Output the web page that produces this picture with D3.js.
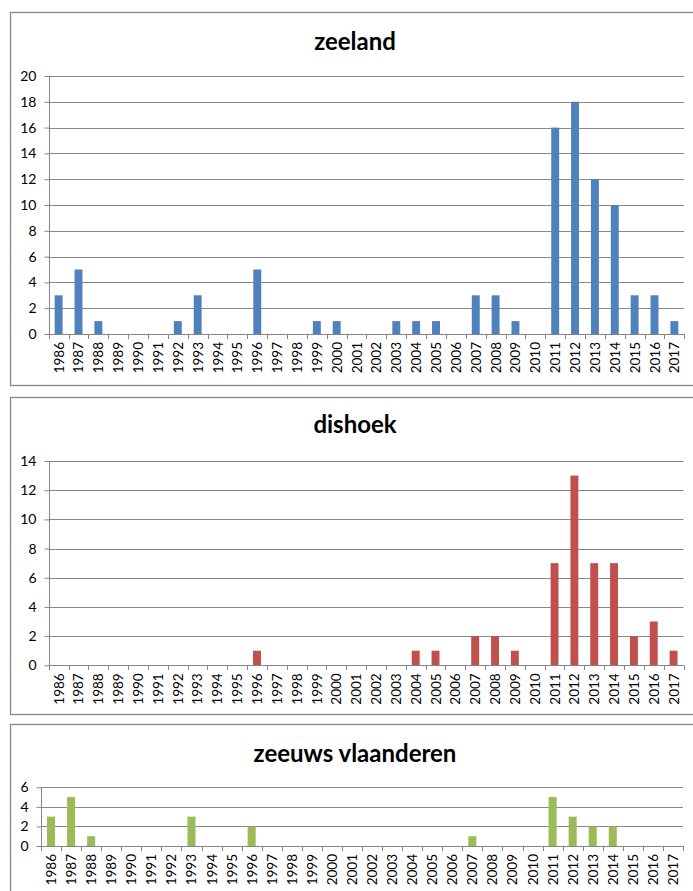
<!DOCTYPE html>
<html>
  <head>
    <script type="text/javascript" src="https://cdn.jsdelivr.net/npm/d3@7"></script>
    <style>
      body { margin: 0; background: #fff; }
      text { font-family: Lato, "Open Sans", sans-serif; fill: #000; }
    </style>
  </head>
  <body>
    <script type="text/javascript">
      // jaren + aantallen per gebied
      const years = d3.range(1986, 2018).map(String);
      const zeeland = [3, 5, 1, 0, 0, 0, 1, 3, 0, 0, 5, 0, 0, 1, 1, 0, 0, 1, 1, 1, 0, 3, 3, 1, 0, 16, 18, 12, 10, 3, 3, 1];
      const dishoek = [0, 0, 0, 0, 0, 0, 0, 0, 0, 0, 1, 0, 0, 0, 0, 0, 0, 0, 1, 1, 0, 2, 2, 1, 0, 7, 13, 7, 7, 2, 3, 1];
      const zeeuwsVlaanderen = [3, 5, 1, 0, 0, 0, 0, 3, 0, 0, 2, 0, 0, 0, 0, 0, 0, 0, 0, 0, 0, 1, 0, 0, 0, 5, 3, 2, 2, 0, 0, 0];
      const titles = ["zeeland", "dishoek", "zeeuws vlaanderen"];
      const yMax = [20, 14, 6];

      const svg = d3.select("body").append("svg")
        .attr("width", 693)
        .attr("height", 891);

      const panels = [
        { title: titles[0], values: zeeland, max: yMax[0], color: "#4f81bd",
          box: [10, 12, 690, 373], left: 48.7, right: 684.3, top: 76, bottom: 334, titleY: 50 },
        { title: titles[1], values: dishoek, max: yMax[1], color: "#c0504d",
          box: [10, 397, 690, 317], left: 48.7, right: 683.5, top: 461, bottom: 665.3, titleY: 433 },
        { title: titles[2], values: zeeuwsVlaanderen, max: yMax[2], color: "#9bbb59",
          box: [10, 724, 690, 200], left: 41, right: 683, top: 787.3, bottom: 846, titleY: 762 }
      ];

      function drawPanel(p) {
        const g = svg.append("g");

        g.append("rect")
          .attr("x", p.box[0] + 0.5)
          .attr("y", p.box[1] + 0.5)
          .attr("width", p.box[2])
          .attr("height", p.box[3])
          .attr("fill", "#fff")
          .attr("stroke", "#868686")
          .attr("stroke-width", 1.3);

        g.append("text")
          .attr("x", p.box[0] + p.box[2] / 2)
          .attr("y", p.titleY)
          .attr("text-anchor", "middle")
          .attr("font-weight", "bold")
          .attr("font-size", "24px")
          .text(p.title);

        const x = d3.scaleBand().domain(years).range([p.left, p.right]);
        const y = d3.scaleLinear().domain([0, p.max]).range([p.bottom, p.top]);
        const ticks = d3.range(0, p.max + 1, 2);

        // gridlines
        g.selectAll(".grid")
          .data(ticks.filter(d => d > 0))
          .enter()
          .append("line")
          .attr("x1", p.left)
          .attr("x2", p.right)
          .attr("y1", d => Math.round(y(d)) + 0.5)
          .attr("y2", d => Math.round(y(d)) + 0.5)
          .attr("stroke", "#898989")
          .attr("stroke-width", 1);

        // bars
        g.selectAll(".bar")
          .data(p.values)
          .enter()
          .append("rect")
          .attr("x", (d, i) => x(years[i]) + x.bandwidth() * 0.3)
          .attr("width", x.bandwidth() * 0.4)
          .attr("y", d => y(d))
          .attr("height", d => y(0) - y(d))
          .attr("fill", p.color);

        // y-as
        const yAxis = d3.axisLeft(y)
          .tickValues(ticks)
          .tickFormat(d3.format("d"))
          .tickSize(5)
          .tickPadding(8);
        const ya = g.append("g")
          .attr("transform", "translate(" + (Math.round(p.left) + 0.5) + ",0)")
          .call(yAxis);
        ya.selectAll("text").attr("font-size", "14px").attr("font-family", "Lato");
        ya.selectAll("line, path").attr("stroke", "#868686");
        ya.select(".domain").attr("d", "M0," + y(p.max) + "V" + y(0));

        // x-as: streepjes tussen de jaren
        g.append("line")
          .attr("x1", p.left)
          .attr("x2", p.right)
          .attr("y1", Math.round(p.bottom) + 0.5)
          .attr("y2", Math.round(p.bottom) + 0.5)
          .attr("stroke", "#868686");

        g.selectAll(".xtick")
          .data(years.concat(["end"]))
          .enter()
          .append("line")
          .attr("x1", (d, i) => Math.round(p.left + i * x.step()) + 0.5)
          .attr("x2", (d, i) => Math.round(p.left + i * x.step()) + 0.5)
          .attr("y1", Math.round(p.bottom))
          .attr("y2", Math.round(p.bottom) + 5)
          .attr("stroke", "#868686");

        g.selectAll(".xlabel")
          .data(years)
          .enter()
          .append("text")
          .attr("transform", d =>
            "translate(" + (x(d) + x.bandwidth() / 2 + 5) + "," + (p.bottom + 8) + ") rotate(-90)")
          .attr("text-anchor", "end")
          .attr("font-size", "13.5px")
          .text(d => d);
      }

      panels.forEach(drawPanel);
    </script>
  </body>
</html>
